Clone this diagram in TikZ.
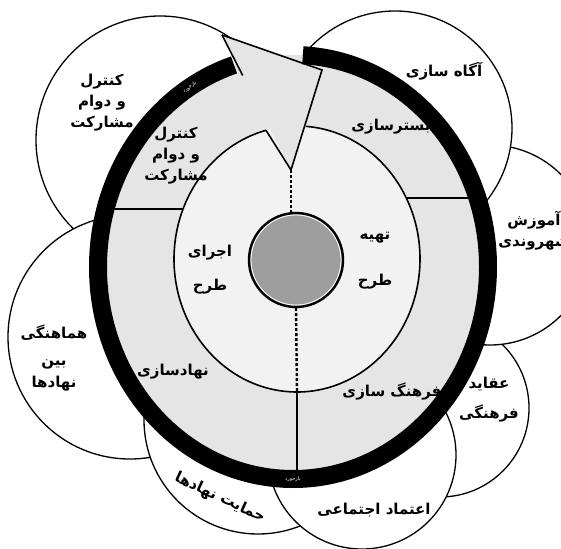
\documentclass[tikz,border=0pt]{standalone}
\usepackage{fontspec}
\newfontfamily\fa[Script=Arabic]{DejaVu Sans}
\TeXXeTstate=1
\usetikzlibrary{calc}
\definecolor{band}{gray}{0.90}
\definecolor{core}{gray}{0.95}
\definecolor{hubgray}{gray}{0.62}
\newcommand{\fat}[1]{\beginR #1\endR}
\begin{document}
\begin{tikzpicture}[x=1pt,y=-1pt,
    petal/.style={circle,draw,fill=white,line width=1.3pt,inner sep=0pt},
    edge/.style={line width=1.6pt},
    ring/.style={line width=18pt},
    txt/.style={font=\fa\bfseries\fontsize{15}{21}\selectfont,align=center,inner sep=0pt},
    fb/.style={font=\fa\fontsize{5}{6}\selectfont,text=white,inner sep=0pt}]
    \useasboundingbox (0,0) rectangle (561,548);
    % outer circles
    \node[petal,minimum size=248pt] (ctl) at (160,140) {};
    \node[petal,minimum size=244pt] (coo) at (130,337) {};
    \node[petal,minimum size=228pt] (sup) at (258,420) {};
    \node[petal,minimum size=178pt] (bel) at (440,408) {};
    \node[petal,minimum size=188pt] (tru) at (362,455) {};
    \node[petal,minimum size=200pt] (edu) at (490,245) {};
    \node[petal,minimum size=234pt] (awa) at (395,128) {};
    % points
    \coordinate (rc) at (293,267);
    \coordinate (mc) at (297,259);
    \coordinate (barb) at (222,35);
    \coordinate (tip) at (322,70);
    \coordinate (vpt) at (291,170);
    \coordinate (mR) at ($(mc)+(-85.8:123 and 133)$);
    \coordinate (mL) at ($(mc)+(-104.6:123 and 133)$);
    \coordinate (mW) at ($(mc)+(202:123 and 133)$);
    \coordinate (mE) at ($(mc)+(-27.3:123 and 133)$);
    \coordinate (mB) at ($(mc)+(90:123 and 133)$);
    \coordinate (rW) at ($(rc)+(196.6:186 and 203)$);
    \coordinate (rE) at ($(rc)+(-19.9:186 and 203)$);
    \coordinate (rB) at ($(rc)+(90:186 and 203)$);
    % fills
    \fill[band] (rc) ellipse[x radius=195,y radius=212];
    \fill[core] (mc) ellipse[x radius=123,y radius=133];
    \fill[band] (barb) -- (tip) -- (vpt) -- cycle;
    \draw[edge] (barb) -- ($(barb)!0.3!(vpt)$);
    % feedback ring
    \draw[ring] ($(rc)+(-87.1:195 and 212)$) arc[start angle=-87.1,end angle=252.4,x radius=195,y radius=212];
    \draw[edge] (mR) arc[start angle=-85.8,end angle=255.4,x radius=123,y radius=133];
    \draw[edge] (barb) -- (tip) -- (vpt) -- (mL);
    \draw[edge] (mW) -- (mW -| rW);
    \draw[edge] (mE) -- (mE -| rE);
    \draw[edge] (mB) -- (mB |- rB);
    \node[circle,draw,fill=hubgray,line width=2.4pt,minimum size=94pt] (hub) at (296,260) {};
    \draw[white,line width=0.8pt] (hub.center) circle[radius=45];
    \draw[line width=2.4pt,dash pattern=on 3pt off 2pt] (vpt) -- (vpt |- hub.north);
    \draw[line width=2.4pt,dash pattern=on 3pt off 2pt] (hub.south) -- (mB);
    % labels
    \node[txt] (t1) at (102,103) {\fat{کنترل}\\\fat{و دوام}\\\fat{مشارکت}};
    \node[txt] (t2) at (176,156) {\fat{کنترل}\\\fat{و دوام}\\\fat{مشارکت}};
    \node[txt] (t3) at (444,71) {\fat{آگاه سازی}};
    \node[txt] (t4) at (391,127) {\fat{بسترسازی}};
    \node[txt] (t5) at (534,231) {\fat{آموزش}\\\fat{شهروندی}};
    \node[txt] (t6) at (375,261) {\fat{تهیه}\\[25pt]\fat{طرح}};
    \node[txt] (t7) at (210,270) {\fat{اجرای}\\[13pt]\fat{طرح}};
    \node[txt] (t8) at (173,372) {\fat{نهادسازی}};
    \node[txt] (t9) at (392,392) {\fat{فرهنگ سازی}};
    \node[txt] (t10) at (489,400) {\fat{عقاید}\\[9pt]\fat{فرهنگی}};
    \node[txt] (t11) at (374,510) {\fat{اعتماد اجتماعی}};
    \node[txt,rotate=-25] (t12) at (220,498) {\fat{حمایت نهادها}};
    \node[txt] (t13) at (54,358) {\fat{هماهنگی}\\[6pt]\fat{بین}\\[1pt]\fat{نهادها}};
    \node[fb,rotate=36] (fb1) at ($(rc)+(238:195 and 212)$) {\fat{بازخورد}};
    \node[fb] (fb2) at ($(rc)+(90:195 and 212)$) {\fat{بازخورد}};
\end{tikzpicture}
\end{document}
